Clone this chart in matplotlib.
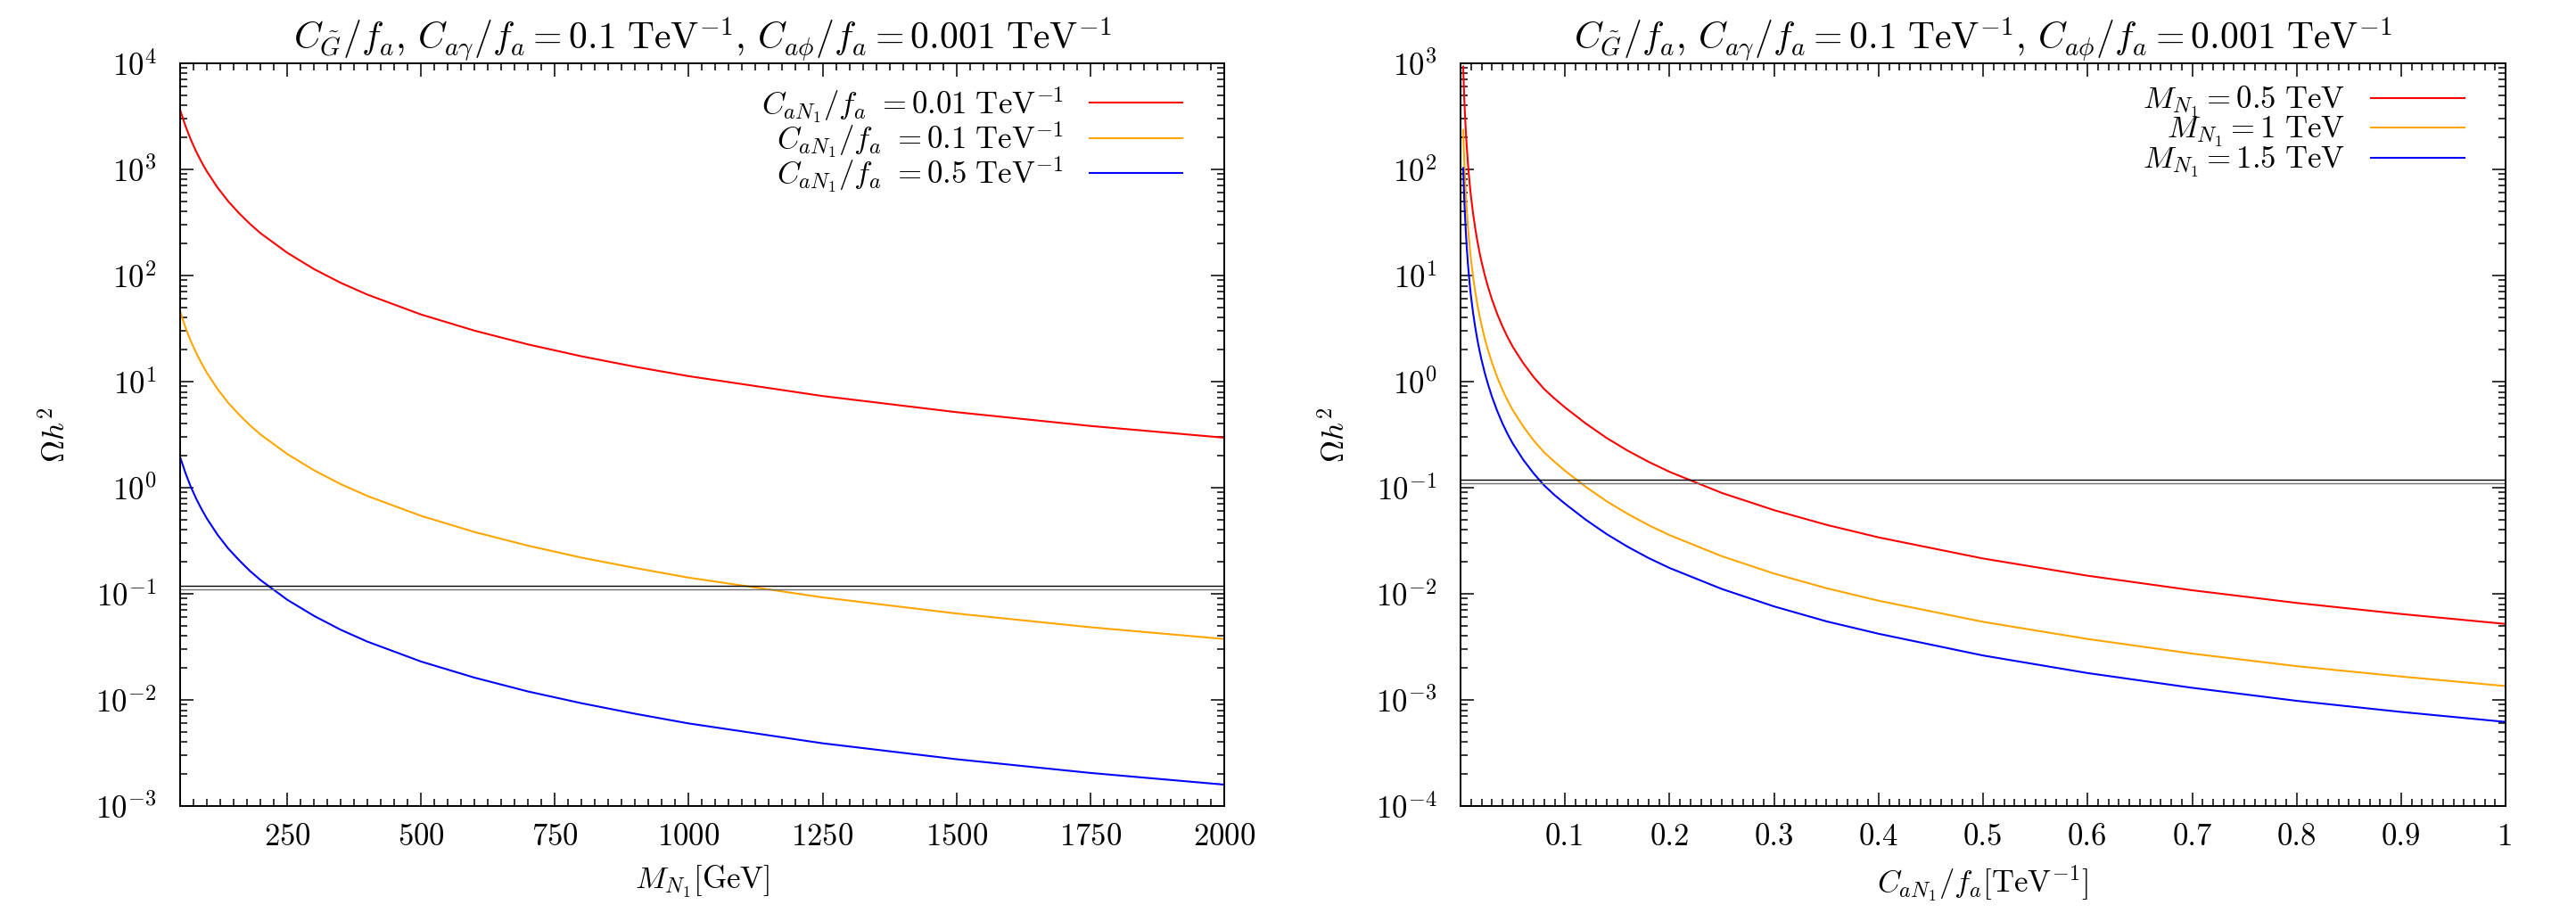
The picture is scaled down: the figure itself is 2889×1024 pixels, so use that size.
import matplotlib
matplotlib.use("Agg")
import matplotlib.pyplot as plt
from matplotlib.ticker import FixedLocator, MultipleLocator, LogLocator, NullFormatter

plt.rcParams.update({
    "font.family": "serif",
    "font.serif": ["cmr10", "DejaVu Serif"],
    "mathtext.fontset": "cm",
    "axes.formatter.use_mathtext": True,
    "font.size": 25,
})

# left panel: relic density vs heavy neutrino mass (GeV)
mass_gev = [50, 60, 70, 80, 90, 100, 120, 140, 160, 180, 200, 250, 300, 350,
            400, 500, 600, 700, 800, 900, 1000, 1250, 1500, 1750, 2000]
omega_c001 = [3650, 2570, 1910, 1475, 1175, 958, 673, 500, 387, 308, 251,
              164, 115, 85.3, 66, 42.9, 30.2, 22.4, 17.3, 13.8, 11.25, 7.31,
              5.15, 3.82, 2.96]
omega_c01 = [46, 32.5, 24.1, 18.7, 14.9, 12.1, 8.5, 6.3, 4.9, 3.9, 3.18,
             2.08, 1.46, 1.08, 0.835, 0.543, 0.382, 0.284, 0.219, 0.175,
             0.142, 0.0925, 0.0652, 0.0484, 0.0375]
omega_c05 = [1.95, 1.38, 1.02, 0.79, 0.63, 0.513, 0.36, 0.267, 0.208, 0.165,
             0.135, 0.088, 0.062, 0.0458, 0.0354, 0.023, 0.0162, 0.0120,
             0.0093, 0.0074, 0.0060, 0.0039, 0.00276, 0.00205, 0.00159]
left_labels = [r"$C_{aN_1}/f_a\ {=}0.01\ \mathrm{TeV}^{-1}$",
               r"$C_{aN_1}/f_a\ {=}0.1\ \mathrm{TeV}^{-1}$",
               r"$C_{aN_1}/f_a\ {=}0.5\ \mathrm{TeV}^{-1}$"]

# right panel: relic density vs coupling C_aN1/f_a (TeV^-1)
coupling = [0.0025, 0.003, 0.0035, 0.004, 0.005, 0.006, 0.007, 0.008, 0.009,
            0.01, 0.012, 0.014, 0.016, 0.018, 0.02, 0.023, 0.026, 0.03,
            0.035, 0.04, 0.045, 0.05, 0.06, 0.07, 0.08, 0.09, 0.1, 0.12,
            0.14, 0.16, 0.18, 0.2, 0.25, 0.3, 0.35, 0.4, 0.5, 0.6, 0.7, 0.8,
            0.9, 1.0]
omega_m05 = [930, 645, 474, 362, 230, 158, 115, 87, 68, 55, 38, 27.8, 21.2,
             16.7, 13.5, 10.2, 7.95, 5.95, 4.35, 3.32, 2.62, 2.12, 1.49,
             1.10, 0.85, 0.69, 0.57, 0.401, 0.293, 0.223, 0.175, 0.141,
             0.0892, 0.0614, 0.0447, 0.034, 0.0215, 0.0148, 0.0108, 0.0082,
             0.00645, 0.0052]
omega_m1 = [235, 163, 120, 91.6, 58.2, 40.0, 29.1, 22.0, 17.2, 13.9, 9.62,
            7.04, 5.37, 4.23, 3.42, 2.58, 2.01, 1.51, 1.10, 0.84, 0.663,
            0.537, 0.377, 0.278, 0.215, 0.175, 0.144, 0.1015, 0.0742,
            0.0565, 0.0443, 0.0357, 0.0226, 0.0155, 0.0113, 0.0086, 0.00544,
            0.00375, 0.00273, 0.00208, 0.00166, 0.00135]
omega_m15 = [103, 72, 53, 40.5, 25.8, 17.8, 13.0, 9.9, 7.8, 6.3, 4.4, 3.25,
             2.5, 1.98, 1.61, 1.22, 0.96, 0.72, 0.53, 0.405, 0.32, 0.26,
             0.183, 0.136, 0.105, 0.085, 0.0705, 0.0497, 0.0364, 0.0277,
             0.0217, 0.0175, 0.0111, 0.0076, 0.0055, 0.0042, 0.00262,
             0.00179, 0.0013, 0.00098, 0.00077, 0.00062]
right_labels = [r"$M_{N_1}=0.5\ \mathrm{TeV}$",
                r"$M_{N_1}=1\ \mathrm{TeV}$",
                r"$M_{N_1}=1.5\ \mathrm{TeV}$"]

planck_band = [0.12, 0.11]
band_colors = ["black", "#707070"]
colors = ["#ff0000", "#ffa500", "#0000ff"]
title = (r"$C_{\tilde{G}}/f_a,\, C_{a\gamma}/f_a = 0.1\ \mathrm{TeV}^{-1},"
         r"\, C_{a\phi}/f_a = 0.001\ \mathrm{TeV}^{-1}$")

fig = plt.figure(figsize=(28.89, 10.24), dpi=100)
ax_l = fig.add_axes([0.0699, 0.1172, 0.4053, 0.8135])
ax_r = fig.add_axes([0.567, 0.1172, 0.4057, 0.8135])


def style_axis(axis):
    axis.set_yscale("log")
    axis.yaxis.set_major_locator(LogLocator(base=10, numticks=20))
    axis.yaxis.set_minor_locator(LogLocator(base=10, subs=range(2, 10), numticks=20))
    axis.yaxis.set_minor_formatter(NullFormatter())
    axis.tick_params(which="both", direction="in", top=True, right=True, width=1.1)
    axis.tick_params(which="major", length=11)
    axis.tick_params(which="minor", length=5.5)
    axis.tick_params(axis="y", pad=19)
    axis.tick_params(axis="x", pad=14)
    for spine in axis.spines.values():
        spine.set_linewidth(1.4)
    for level, c in zip(planck_band, band_colors):
        axis.axhline(level, color=c, lw=1.0)
    axis.set_title(title, pad=6)
    axis.set_ylabel(r"$\Omega h^2$", labelpad=20)


for values, c, lab in zip([omega_c001, omega_c01, omega_c05], colors, left_labels):
    ax_l.plot(mass_gev, values, color=c, lw=1.5, label=lab)
style_axis(ax_l)
ax_l.set_xlim(50, 2000)
ax_l.set_ylim(1e-3, 1e4)
ax_l.xaxis.set_major_locator(FixedLocator(range(250, 2001, 250)))
ax_l.xaxis.set_minor_locator(MultipleLocator(25))
ax_l.set_xlabel(r"$M_{N_1}[\mathrm{GeV}]$", labelpad=10)

for values, c, lab in zip([omega_m05, omega_m1, omega_m15], colors, right_labels):
    ax_r.plot(coupling, values, color=c, lw=1.5, label=lab)
style_axis(ax_r)
ax_r.set_xlim(0, 1)
ax_r.set_ylim(1e-4, 1e3)
ax_r.xaxis.set_major_locator(FixedLocator([0.1, 0.2, 0.3, 0.4, 0.5, 0.6, 0.7, 0.8, 0.9, 1.0]))
ax_r.xaxis.set_major_formatter(lambda v, p: f"{v:g}")
ax_r.xaxis.set_minor_locator(MultipleLocator(0.01))
ax_r.set_xlabel(r"$C_{aN_1}/f_a[\mathrm{TeV}^{-1}]$", labelpad=10)

for axis in (ax_l, ax_r):
    axis.legend(loc="upper right", bbox_to_anchor=(0.981, 1.0), frameon=False,
                markerfirst=False, handlelength=3.0, handletextpad=0.85,
                labelspacing=-0.15, borderaxespad=0.3, fontsize=25)

fig.savefig("out.png", dpi=100)
